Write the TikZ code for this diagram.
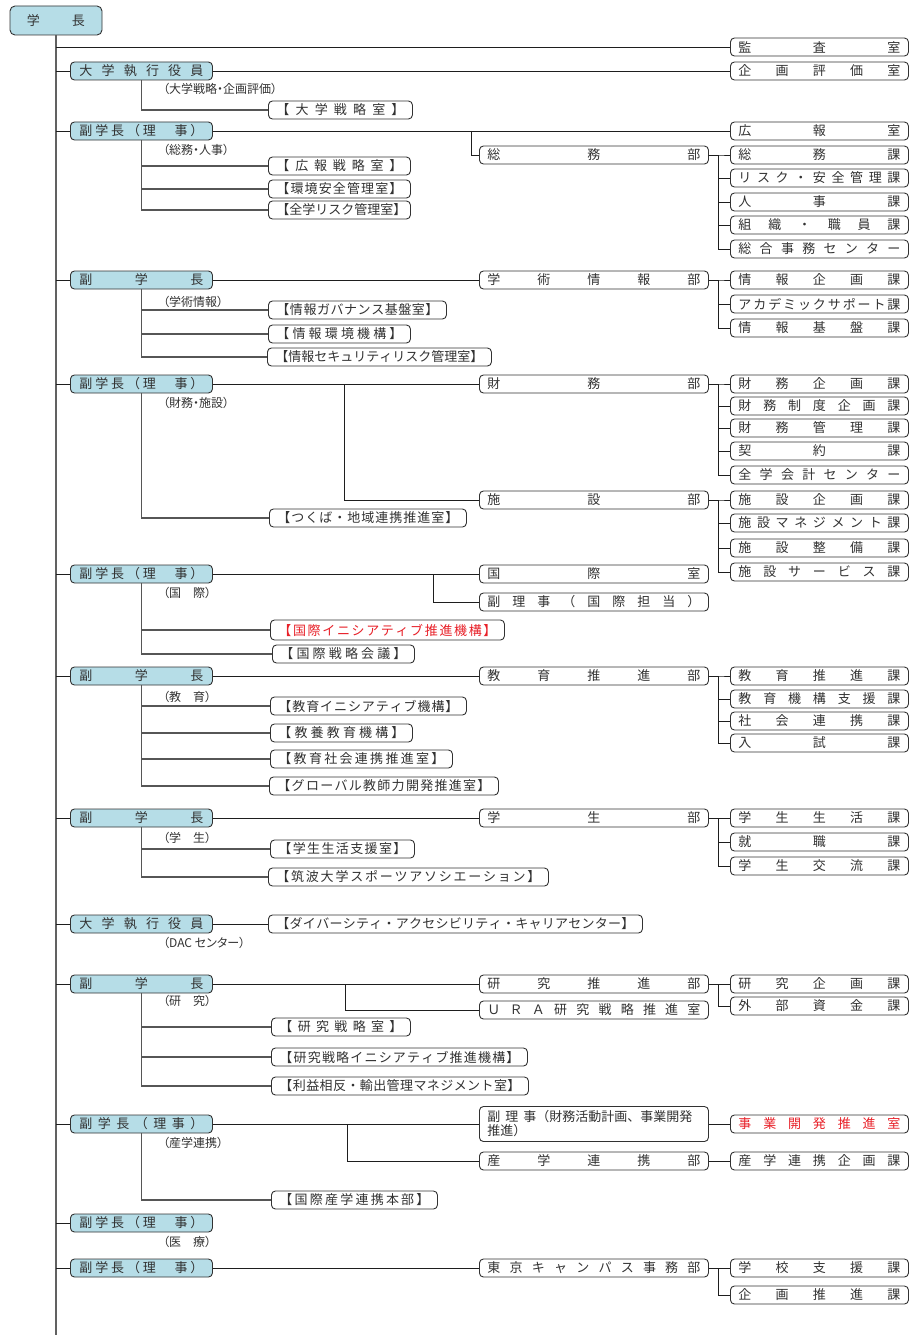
\documentclass[tikz,border=0pt]{standalone}
\usepackage{fontspec}
\setmainfont{Noto Sans CJK JP}
\newfontfamily\jpp[RawFeature=+palt]{Noto Sans CJK JP}
\usepackage{xcolor}
\usepackage{tikz}

\definecolor{vpblue}{RGB}{182,221,231}
\definecolor{ink}{RGB}{50,50,50}
\definecolor{lnk}{RGB}{30,30,30}
\definecolor{jred}{RGB}{232,32,40}

\def\spreadtext#1{\hbox to\linewidth{\expandafter\distfirst#1\relax}}
\def\distfirst#1{#1\distnext}
\def\distnext#1{\ifx\relax#1\else\hfill#1\expandafter\distnext\fi}

\begin{document}
\begin{tikzpicture}[
    x=1pt, y=-1pt,
    box/.style={draw=ink, line width=0.9pt, rounded corners=4pt, fill=white, text=ink, font=\fontsize{13}{14}\selectfont, inner xsep=8pt, inner ysep=2pt, minimum height=18pt, anchor=west},
    vp/.style={box, fill=vpblue, text width=124pt, inner xsep=9pt},
    bu/.style={box, text width=213pt},
    ka/.style={box, text width=162pt},
    sub/.style={box, text width=#1},
    duty/.style={anchor=west, inner sep=0pt, text=ink, font=\jpp\fontsize{12}{14}\selectfont},
    conn/.style={draw=lnk, line width=0.9pt},
    subl/.style={draw=lnk!75, line width=1.2pt},
    trunk/.style={draw=lnk!70, line width=1.6pt},
]
\useasboundingbox (0,0) rectangle (910,1335);

\node[box, anchor=center, fill=vpblue, text width=58pt, inner xsep=17pt, minimum height=29pt, rounded corners=5pt] (cho) at (56,20.5) {\spreadtext{学長}};
\coordinate (bottom) at (56,1335);
\node[ka] (kansa) at (730,47) {\spreadtext{監査室}};

% 大学執行役員（大学戦略・企画評価）
\node[vp] (vp1) at (70,71) {\spreadtext{大学執行役員}};
\node[ka] (hyoka) at (730,71) {\spreadtext{企画評価室}};
\node[duty] (d1) at (163,89) {（大学戦略・企画評価）};
\node[sub=128pt] (senryaku) at (268,110) {\spreadtext{【大学戦略室】}};

% 総務・人事
\node[vp] (vp2) at (70,131) {\spreadtext{副学長（理　事）}};
\node[ka] (koho) at (730,131) {\spreadtext{広報室}};
\node[bu] (somu) at (479,155) {\spreadtext{総務部}};
\coordinate (br2) at (471,131);
\node[duty] (d2) at (163,150) {（総務・人事）};
\node[sub=126pt] (kohosen) at (268,166) {\spreadtext{【広報戦略室】}};
\node[sub=126pt] (kankyo) at (268,189) {\spreadtext{【環境安全管理室】}};
\node[sub=126pt] (risk) at (268,210) {\spreadtext{【全学リスク管理室】}};
\foreach \n/\y/\txt in {somu1/155/総務課, somu2/178/リスク・安全管理課, somu3/202/人事課, somu4/225/組織・職員課, somu5/249/総合事務センター}{
    \node[ka] (\n) at (730,\y) {\spreadtext{\txt}};
    \draw[conn] (somu.east) -- ++(10,0) |- (\n.west);
}

% 学術情報
\node[vp] (vp3) at (70,280) {\spreadtext{副学長}};
\node[bu] (gakujo) at (479,280) {\spreadtext{学術情報部}};
\node[duty] (d3) at (163,302) {（学術情報）};
\node[sub=162pt] (gov) at (268,310) {\spreadtext{【情報ガバナンス基盤室】}};
\node[sub=126pt] (kankyokiko) at (268,334) {\spreadtext{【情報環境機構】}};
\node[sub=208pt] (sec) at (267,357) {\spreadtext{【情報セキュリティリスク管理室】}};
\foreach \n/\y/\txt in {joho1/280/情報企画課, joho2/304/アカデミックサポート課, joho3/328/情報基盤課}{
    \node[ka] (\n) at (730,\y) {\spreadtext{\txt}};
    \draw[conn] (gakujo.east) -- ++(10,0) |- (\n.west);
}

% 財務・施設
\node[vp] (vp4) at (70,384) {\spreadtext{副学長（理　事）}};
\node[bu] (zaimu) at (479,384) {\spreadtext{財務部}};
\node[bu] (shisetsu) at (479,500) {\spreadtext{施設部}};
\coordinate (br4) at (344,384);
\node[duty] (d4) at (163,403) {（財務・施設）};
\node[sub=181pt] (tsukuba) at (269,518) {\spreadtext{【つくば・地域連携推進室】}};
\foreach \n/\y/\txt in {zaimu1/384/財務企画課, zaimu2/406/財務制度企画課, zaimu3/428/財務管理課, zaimu4/451/契約課, zaimu5/475/全学会計センター}{
    \node[ka] (\n) at (730,\y) {\spreadtext{\txt}};
    \draw[conn] (zaimu.east) -- ++(10,0) |- (\n.west);
}
\foreach \n/\y/\txt in {shi1/500/施設企画課, shi2/523/施設マネジメント課, shi3/548/施設整備課, shi4/572/施設サービス課}{
    \node[ka] (\n) at (730,\y) {\spreadtext{\txt}};
    \draw[conn] (shisetsu.east) -- ++(10,0) |- (\n.west);
}

% 国際
\node[vp] (vp5) at (70,574) {\spreadtext{副学長（理　事）}};
\node[bu] (kokusai) at (479,574) {\spreadtext{国際室}};
\node[bu] (fukuriji) at (479,602) {\spreadtext{副理事（国際担当）}};
\coordinate (br5) at (433,574);
\node[duty] (d5) at (163,593) {（国　際）};
\node[sub=218pt, text=jred, minimum height=20pt] (initiative) at (270,630) {\spreadtext{【国際イニシアティブ推進機構】}};
\node[sub=126pt] (kaigi) at (272,654) {\spreadtext{【国際戦略会議】}};

% 教育
\node[vp] (vp6) at (70,676) {\spreadtext{副学長}};
\node[bu] (kyoiku) at (479,676) {\spreadtext{教育推進部}};
\node[duty] (d6) at (163,697) {（教　育）};
\node[sub=180pt] (kyoini) at (270,706) {\spreadtext{【教育イニシアティブ機構】}};
\node[sub=126pt] (kyoyo) at (270,733) {\spreadtext{【教養教育機構】}};
\node[sub=166pt] (shakai) at (270,759) {\spreadtext{【教育社会連携推進室】}};
\node[sub=213pt] (global) at (269,786) {\spreadtext{【グローバル教師力開発推進室】}};
\foreach \n/\y/\txt in {kyo1/676/教育推進課, kyo2/699/教育機構支援課, kyo3/721/社会連携課, kyo4/743/入試課}{
    \node[ka] (\n) at (730,\y) {\spreadtext{\txt}};
    \draw[conn] (kyoiku.east) -- ++(10,0) |- (\n.west);
}

% 学生
\node[vp] (vp7) at (70,818) {\spreadtext{副学長}};
\node[bu] (gakusei) at (479,818) {\spreadtext{学生部}};
\node[duty] (d7) at (163,838) {（学　生）};
\node[sub=128pt] (seikatsu) at (270,849) {\spreadtext{【学生生活支援室】}};
\node[sub=264pt] (sports) at (268,877) {\spreadtext{【筑波大学スポーツアソシエーション】}};
\foreach \n/\y/\txt in {gs1/818/学生生活課, gs2/842/就職課, gs3/866/学生交流課}{
    \node[ka] (\n) at (730,\y) {\spreadtext{\txt}};
    \draw[conn] (gakusei.east) -- ++(10,0) |- (\n.west);
}

% DACセンター
\node[vp] (vp8) at (70,924) {\spreadtext{大学執行役員}};
\node[sub=358pt] (dac) at (268,924) {\spreadtext{【ダイバーシティ・アクセシビリティ・キャリアセンター】}};
\node[duty] (d8) at (163,943) {（DAC センター）};

% 研究
\node[vp] (vp9) at (70,984) {\spreadtext{副学長}};
\node[bu] (kensui) at (479,984) {\spreadtext{研究推進部}};
\node[bu] (ura) at (479,1010) {\spreadtext{ＵＲＡ研究戦略推進室}};
\coordinate (br9) at (345,984);
\node[duty] (d9) at (163,1001) {（研　究）};
\node[sub=123pt] (kensen) at (271,1027) {\spreadtext{【研究戦略室】}};
\node[sub=240pt] (kenini) at (271,1057) {\spreadtext{【研究戦略イニシアティブ推進機構】}};
\node[sub=241pt] (rieki) at (271,1086) {\spreadtext{【利益相反・輸出管理マネジメント室】}};
\foreach \n/\y/\txt in {ken1/984/研究企画課, ken2/1006/外部資金課}{
    \node[ka] (\n) at (730,\y) {\spreadtext{\txt}};
    \draw[conn] (kensui.east) -- ++(10,0) |- (\n.west);
}

% 産学連携
\node[vp] (vp10) at (70,1124) {\spreadtext{副学長（理事）}};
\node[bu, align=left, minimum height=35pt] (fr2) at (479,1124) {副\hspace{5pt}理\hspace{5pt}事（財務活動計画、事業開発\\推進）};
\node[ka, text=jred] (jigyo) at (730,1124) {\spreadtext{事業開発推進室}};
\node[bu] (sangaku) at (479,1161) {\spreadtext{産学連携部}};
\node[ka] (sgkika) at (730,1161) {\spreadtext{産学連携企画課}};
\coordinate (br10) at (347,1124);
\node[duty] (d10) at (163,1143) {（産学連携）};
\node[sub=150pt] (honbu) at (271,1200) {\spreadtext{【国際産学連携本部】}};

% 医療
\node[vp] (vp11) at (70,1223) {\spreadtext{副学長（理　事）}};
\node[duty] (d11) at (163,1242) {（医　療）};

% 東京キャンパス
\node[vp] (vp12) at (70,1268) {\spreadtext{副学長（理　事）}};
\node[bu] (tokyo) at (479,1268) {\spreadtext{東京キャンパス事務部}};
\foreach \n/\y/\txt in {tk1/1268/学校支援課, tk2/1295/企画推進課}{
    \node[ka] (\n) at (730,\y) {\spreadtext{\txt}};
    \draw[conn] (tokyo.east) -- ++(10,0) |- (\n.west);
}

\draw[trunk] (cho.south) -- (bottom);
\draw[conn] (cho.south |- kansa.west) -- (kansa.west);
\foreach \v in {vp1,vp2,vp3,vp4,vp5,vp6,vp7,vp8,vp9,vp10,vp11,vp12}
    \draw[conn] (cho.south |- \v.west) -- (\v.west);

\draw[conn] (vp1.east) -- (hyoka.west);
\draw[conn] (vp2.east) -- (koho.west);
\draw[conn] (vp3.east) -- (gakujo.west);
\draw[conn] (vp4.east) -- (zaimu.west);
\draw[conn] (vp5.east) -- (kokusai.west);
\draw[conn] (vp6.east) -- (kyoiku.west);
\draw[conn] (vp7.east) -- (gakusei.west);
\draw[conn] (vp8.east) -- (dac.west);
\draw[conn] (vp9.east) -- (kensui.west);
\draw[conn] (vp10.east) -- (fr2.west);
\draw[conn] (vp12.east) -- (tokyo.west);
\draw[conn] (fr2.east) -- (jigyo.west);
\draw[conn] (sangaku.east) -- (sgkika.west);

\draw[conn] (br2) |- (somu.west);
\draw[conn] (br4) |- (shisetsu.west);
\draw[conn] (br5) |- (fukuriji.west);
\draw[conn] (br9) |- (ura.west);
\draw[conn] (br10) |- (sangaku.west);

\draw[subl] (vp1.south) |- (senryaku.west);
\foreach \s in {kohosen,kankyo,risk}
    \draw[subl] (vp2.south) |- (\s.west);
\foreach \s in {gov,kankyokiko,sec}
    \draw[subl] (vp3.south) |- (\s.west);
\draw[subl] (vp4.south) |- (tsukuba.west);
\foreach \s in {initiative,kaigi}
    \draw[subl] (vp5.south) |- (\s.west);
\foreach \s in {kyoini,kyoyo,shakai,global}
    \draw[subl] (vp6.south) |- (\s.west);
\foreach \s in {seikatsu,sports}
    \draw[subl] (vp7.south) |- (\s.west);
\foreach \s in {kensen,kenini,rieki}
    \draw[subl] (vp9.south) |- (\s.west);
\draw[subl] (vp10.south) |- (honbu.west);

\end{tikzpicture}
\end{document}
